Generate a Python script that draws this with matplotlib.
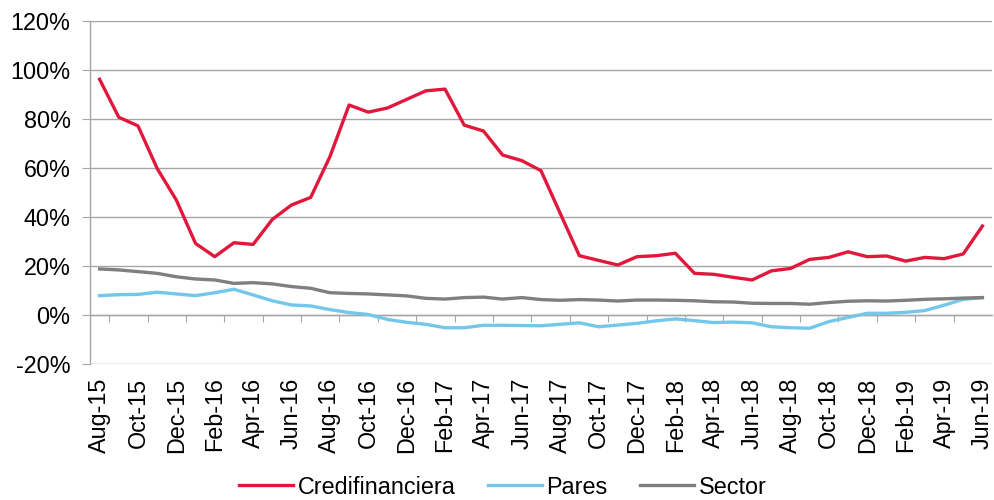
import matplotlib
matplotlib.use("Agg")
import matplotlib.pyplot as plt
from matplotlib.ticker import FuncFormatter, FixedLocator

months = ["Aug-15", "Sep-15", "Oct-15", "Nov-15", "Dec-15", "Jan-16", "Feb-16", "Mar-16",
          "Apr-16", "May-16", "Jun-16", "Jul-16", "Aug-16", "Sep-16", "Oct-16", "Nov-16",
          "Dec-16", "Jan-17", "Feb-17", "Mar-17", "Apr-17", "May-17", "Jun-17", "Jul-17",
          "Aug-17", "Sep-17", "Oct-17", "Nov-17", "Dec-17", "Jan-18", "Feb-18", "Mar-18",
          "Apr-18", "May-18", "Jun-18", "Jul-18", "Aug-18", "Sep-18", "Oct-18", "Nov-18",
          "Dec-18", "Jan-19", "Feb-19", "Mar-19", "Apr-19", "May-19", "Jun-19"]

credifinanciera = [96.2, 80.7, 77.2, 59.8, 46.9, 29.2, 23.8, 29.5, 28.8, 39.0, 44.9, 48.0,
                   64.6, 85.7, 82.8, 84.5, 88.0, 91.5, 92.2, 77.5, 75.1, 65.3, 63.0, 58.9,
                   41.5, 24.2, 22.3, 20.4, 23.8, 24.2, 25.2, 17.0, 16.6, 15.4, 14.3, 18.0,
                   19.0, 22.7, 23.5, 25.8, 23.8, 24.1, 22.0, 23.5, 23.0, 24.9, 36.3]
pares = [7.9, 8.3, 8.4, 9.3, 8.6, 7.9, 9.1, 10.5, 8.2, 5.8, 4.1, 3.7,
         2.2, 1.0, 0.2, -1.8, -3.0, -3.8, -5.2, -5.2, -4.2, -4.2, -4.3, -4.4,
         -3.8, -3.2, -4.8, -4.1, -3.4, -2.4, -1.6, -2.3, -3.1, -2.9, -3.2, -4.8,
         -5.2, -5.4, -2.7, -1.0, 0.7, 0.7, 1.1, 1.8, 4.0, 6.4, 7.1]
sector = [18.8, 18.4, 17.7, 17.0, 15.6, 14.7, 14.3, 12.9, 13.2, 12.7, 11.6, 10.9,
          9.1, 8.8, 8.6, 8.2, 7.8, 6.8, 6.5, 7.1, 7.3, 6.5, 7.1, 6.3,
          6.0, 6.3, 6.1, 5.7, 6.1, 6.1, 6.0, 5.8, 5.4, 5.3, 4.8, 4.7,
          4.7, 4.4, 5.1, 5.6, 5.8, 5.7, 6.0, 6.4, 6.6, 6.9, 7.1]

series = [("Credifinanciera", credifinanciera, "#E2173C"),
          ("Pares", pares, "#72C7EA"),
          ("Sector", sector, "#7F7F7F")]

plt.rcParams["font.family"] = ["Liberation Sans", "DejaVu Sans"]
FS = 16.8

fig = plt.figure(figsize=(9.95, 5.0), dpi=100)
ax = fig.add_axes([90 / 995, 1 - 364 / 500, (992 - 90) / 995, (364 - 21) / 500])

x = list(range(len(months)))
for name, vals, color in series:
    ax.plot(x, [v / 100 for v in vals], color=color, lw=2.4, label=name,
            solid_joinstyle="round", zorder=3)

ax.set_ylim(-0.2, 1.2)
ax.set_xlim(-0.5, len(months) - 0.5)
ax.set_yticks([i / 100 for i in range(-20, 121, 20)])
ax.yaxis.set_major_formatter(FuncFormatter(lambda v, p: f"{v * 100:.0f}%"))
ax.grid(axis="y", color="#A6A6A6", lw=1.0, zorder=1)

# category axis crosses at 0, labels stay at the bottom
ax.spines["bottom"].set_position(("data", 0))
for s in ("top", "right"):
    ax.spines[s].set_visible(False)
for s in ("left", "bottom"):
    ax.spines[s].set_color("#A6A6A6")
    ax.spines[s].set_linewidth(1.0)

ax.xaxis.set_major_locator(FixedLocator([i - 0.5 for i in range(1, len(months), 2)]))
ax.xaxis.set_major_formatter(FuncFormatter(lambda v, p: ""))
ax.xaxis.set_minor_locator(FixedLocator(x[::2]))
ax.set_xticklabels(months[::2], minor=True, rotation=90, fontsize=FS)
ax.tick_params(axis="x", which="major", direction="out", length=5, color="#A6A6A6")
ax.tick_params(axis="x", which="minor", length=0, pad=45)
ax.tick_params(axis="y", direction="out", length=6, color="#A6A6A6",
               labelsize=FS, pad=8)

fig.legend(loc="center", bbox_to_anchor=(503 / 995, 1 - 487 / 500), ncol=3,
           frameon=False, fontsize=FS, handlelength=2.3, handletextpad=0.2,
           columnspacing=1.4)

fig.savefig("out.png", dpi=100)
